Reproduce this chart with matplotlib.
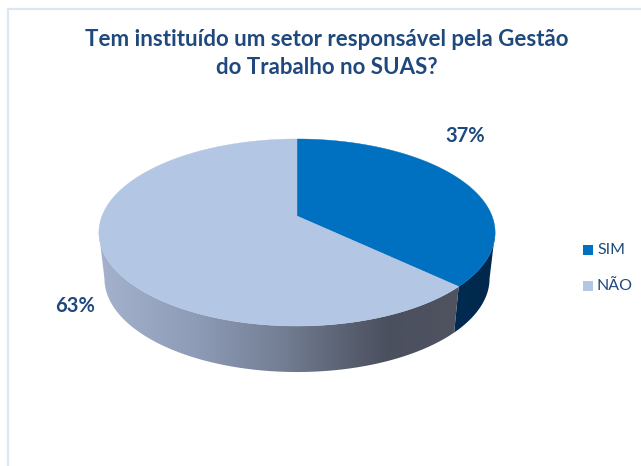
import numpy as np
import matplotlib
matplotlib.use('Agg')
import matplotlib.pyplot as plt
from matplotlib.colors import LinearSegmentedColormap
from matplotlib.patches import Polygon, Rectangle

title_lines = ['Tem instituído um setor responsável pela Gestão', 'do Trabalho no SUAS?']
categories = ['SIM', 'NÃO']
values = [37, 63]
top_colors = ['#0070c0', '#b3c6e3']
text_color = '#1f497d'

W, H = 641, 466
plt.rcParams['font.family'] = ['Lato', 'DejaVu Sans']

fig = plt.figure(figsize=(W / 100, H / 100), dpi=100)
ax = fig.add_axes([0, 0, 1, 1])
ax.axis('off')

# moldura clara, so em cima e a esquerda
ax.plot([W, 7.5, 7.5], [9, 9, H], color='#dce6f4', lw=1.6, solid_joinstyle='miter')

# perspectiva: o centro da pizza nao fica no centro da elipse
CX, CY = 297, 216
K = 0.1765
A, B = 90.6, 195.0
DEPTH = 46
SHRINK = 0.972


def project(theta):
    u = np.sin(theta)
    v = np.cos(theta)
    w = 1 + K * v
    return CX + B * u / w, CY - A * v / w


fractions = np.array(values) / sum(values)
edges = np.concatenate([[0], np.cumsum(fractions)]) * 2 * np.pi

# laterais com degrade horizontal
nao_side = LinearSegmentedColormap.from_list('nao', [
    (0.0, '#a5b3ce'), (0.28, '#8e9bb6'), (0.52, '#727d92'),
    (0.72, '#555b6b'), (0.80, '#4b505f'), (1.0, '#50535f')])
sim_side = LinearSegmentedColormap.from_list('sim', ['#002c52', '#00274a'])
side_cmaps = [sim_side, nao_side]
side_ranges = [(450, 500), (95, 462)]

for i in range(2):
    ts = np.linspace(edges[i], edges[i + 1], 800)
    # so a parte da frente, ate os pontos extremos da elipse
    ts = ts[np.cos(ts) <= -K]
    xs, ys = project(ts)
    bx = CX + (xs - CX) * SHRINK
    by = ys + DEPTH
    outline = np.column_stack([np.r_[xs, bx[::-1]], np.r_[ys, by[::-1]]])
    lo, hi = side_ranges[i]
    im = ax.imshow(np.linspace(0, 1, 512).reshape(1, -1), cmap=side_cmaps[i], aspect='auto',
                   extent=(lo, hi, 400, 200), zorder=2, interpolation='bilinear')
    clip = Polygon(outline, closed=True, transform=ax.transData, facecolor='none', edgecolor='none')
    ax.add_patch(clip)
    im.set_clip_path(clip)

# tampa
for i in range(2):
    ts = np.linspace(edges[i], edges[i + 1], 300)
    xs, ys = project(ts)
    pts = np.column_stack([np.r_[CX, xs], np.r_[CY, ys]])
    ax.add_patch(Polygon(pts, closed=True, facecolor=top_colors[i],
                         edgecolor=top_colors[i], lw=0.3, zorder=3))

ax.set_xlim(0, W)
ax.set_ylim(H, 0)

for line, y in zip(title_lines, [39, 67]):
    ax.text(327, y, line, ha='center', va='center', fontsize=16, fontweight='bold', color=text_color)
ax.text(465, 136, f'{values[0]}%', ha='center', va='center', fontsize=14.5,
        fontweight='bold', color=text_color)
ax.text(75, 306, f'{values[1]}%', ha='center', va='center', fontsize=14.5,
        fontweight='bold', color=text_color)

for i, y in enumerate([250, 286]):
    ax.add_patch(Rectangle((583, y - 5), 10, 10, facecolor=top_colors[i], edgecolor='none'))
    ax.text(597, y, categories[i], ha='left', va='center', fontsize=11.5, color=text_color)

fig.savefig('out.png', dpi=100, facecolor='white')
